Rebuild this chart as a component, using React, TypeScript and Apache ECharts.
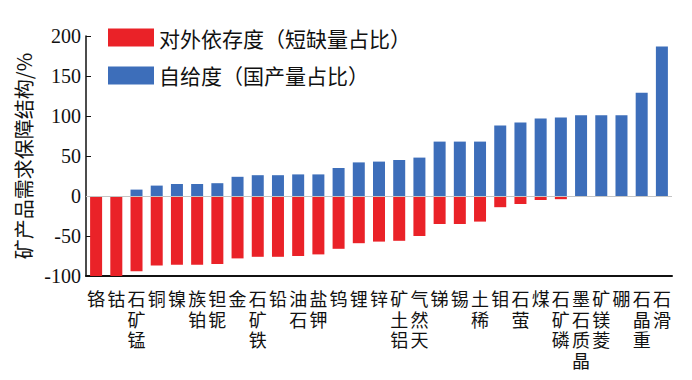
import React, { useEffect, useRef } from "react";
import * as echarts from "echarts";

const categories = [
  "铬", "钴", "锰矿石", "铜", "镍", "铂族", "铌钽", "金", "铁矿石",
  "铅", "石油", "钾盐", "钨", "锂", "锌", "铝土矿", "天然气", "锑", "锡",
  "稀土", "钼", "萤石", "煤", "磷矿石", "晶质石墨", "菱镁矿", "硼", "重晶石", "滑石",
];

const dependence = [
  -100, -100, -94, -87, -86, -86, -85, -78, -76,
  -76, -75, -73, -66, -59, -57, -56, -50, -35, -35,
  -32, -14, -10, -5, -4, 0, 0, 0, 0, 0,
];

const selfSufficiency = [
  0, 0, 8, 13, 15, 15, 16, 24, 26,
  26, 27, 27, 35, 42, 43, 45, 48, 68, 68,
  68, 88, 92, 97, 98, 101, 101, 101, 129, 187,
];

const yTicks = { min: -100, max: 200, interval: 50 };

const seriesNames = ["对外依存度（短缺量占比）", "自给度（国产量占比）"];
const yAxisName = "矿产品需求保障结构/%";

export default function App() {
  const ref = useRef<HTMLDivElement>(null);
  useEffect(() => {
    if (!ref.current) return;
    const chart = echarts.init(ref.current, undefined, { renderer: "svg" });
    const cjk = "'Noto Sans CJK SC', sans-serif";
    const serif = "'Liberation Serif', 'Noto Sans CJK SC', serif";
    chart.setOption({
      animation: false,
      backgroundColor: "#ffffff",
      grid: { left: 86, right: 20, top: 36, bottom: 104 },
      legend: {
        orient: "vertical",
        left: 103,
        top: 22,
        itemWidth: 46,
        itemHeight: 18,
        itemGap: 17,
        icon: "rect",
        textStyle: { fontFamily: cjk, fontSize: 21, color: "#111" },
        data: seriesNames,
      },
      xAxis: {
        type: "category",
        data: categories,
        axisLine: { onZero: false, lineStyle: { color: "#111", width: 2 } },
        axisTick: { show: false },
        axisLabel: {
          interval: 0,
          margin: 14,
          fontFamily: serif,
          fontSize: 18,
          lineHeight: 20.5,
          color: "#111",
          verticalAlign: "top",
          formatter: (v: string) => v.split("").reverse().join("\n"),
        },
      },
      yAxis: {
        type: "value",
        min: yTicks.min,
        max: yTicks.max,
        interval: yTicks.interval,
        name: yAxisName,
        nameLocation: "middle",
        nameGap: 52,
        nameRotate: 90,
        nameTextStyle: { fontFamily: cjk, fontSize: 20, color: "#111" },
        axisLine: { show: true, lineStyle: { color: "#111", width: 1.5 } },
        axisTick: { show: true, inside: true, length: 5, lineStyle: { color: "#111" } },
        axisLabel: { fontFamily: serif, fontSize: 20, color: "#111", margin: 5 },
        splitLine: { show: false },
      },
      series: [
        {
          name: seriesNames[0],
          type: "bar",
          data: dependence,
          barWidth: 12,
          barGap: "-100%",
          itemStyle: { color: "#EA2228" },
          markLine: {
            silent: true,
            symbol: "none",
            label: { show: false },
            lineStyle: { color: "#c4c4c4", width: 1, type: "solid" },
            data: [{ yAxis: 0 }],
          },
        },
        {
          name: seriesNames[1],
          type: "bar",
          data: selfSufficiency,
          barWidth: 12,
          barGap: "-100%",
          itemStyle: { color: "#3D6EBA" },
        },
      ],
    });
    return () => chart.dispose();
  }, []);
  return (
    <div
      ref={ref}
      style={{ position: "absolute", left: 0, top: 0, width: 692, height: 380 }}
    />
  );
}
